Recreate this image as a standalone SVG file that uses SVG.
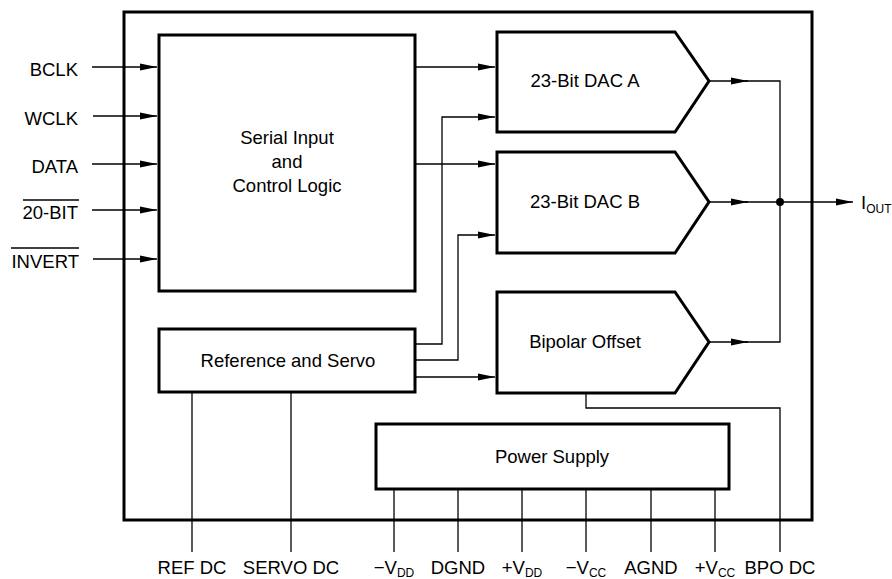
<svg xmlns="http://www.w3.org/2000/svg" width="892" height="579" viewBox="0 0 892 579">
<style>
text{font-family:"Liberation Sans",Arial,sans-serif;font-size:18.5px;fill:#000}
.box{fill:#fff;stroke:#000;stroke-width:3}
.outer{fill:none;stroke:#000;stroke-width:3}
.w{fill:none;stroke:#000;stroke-width:1.3}
.sub{font-size:12px}
.m{text-anchor:middle}
.e{text-anchor:end}
</style>
<defs>
<marker id="ah" markerUnits="userSpaceOnUse" markerWidth="18" markerHeight="8" refX="17" refY="4" orient="auto">
<path d="M0,0.6 L17,4 L0,7.4 z" fill="#000"/>
</marker>
</defs>
<rect id="package" class="outer" x="124" y="12" width="688" height="508"/>
<g id="connectors">
<line class="w" x1="92" y1="67" x2="157" y2="67" marker-end="url(#ah)"/>
<line class="w" x1="93" y1="116" x2="157" y2="116" marker-end="url(#ah)"/>
<line class="w" x1="92" y1="164" x2="157" y2="164" marker-end="url(#ah)"/>
<line class="w" x1="92" y1="210" x2="157" y2="210" marker-end="url(#ah)"/>
<line class="w" x1="93" y1="259" x2="157" y2="259" marker-end="url(#ah)"/>
<line class="w" x1="415" y1="67" x2="495" y2="67" marker-end="url(#ah)"/>
<line class="w" x1="415" y1="164" x2="495" y2="164" marker-end="url(#ah)"/>
<polyline class="w" points="415,344 442,344 442,117 495,117" marker-end="url(#ah)"/>
<polyline class="w" points="415,360 458,360 458,235 495,235" marker-end="url(#ah)"/>
<line class="w" x1="415" y1="377" x2="495" y2="377" marker-end="url(#ah)"/>
<line class="w" x1="709" y1="81" x2="748" y2="81" marker-end="url(#ah)"/>
<line class="w" x1="709" y1="202" x2="748" y2="202" marker-end="url(#ah)"/>
<line class="w" x1="709" y1="342" x2="748" y2="342" marker-end="url(#ah)"/>
<polyline class="w" points="745,81 780,81 780,342 745,342"/>
<line class="w" x1="745" y1="202" x2="853" y2="202" marker-end="url(#ah)"/>
<circle cx="780" cy="202" r="4" fill="#000"/>
<polyline class="w" points="586,393 586,408 780,408 780,552"/>
<line class="w" x1="192" y1="392" x2="192" y2="552"/>
<line class="w" x1="291" y1="392" x2="291" y2="552"/>
<line class="w" x1="394" y1="489" x2="394" y2="552"/>
<line class="w" x1="458" y1="489" x2="458" y2="552"/>
<line class="w" x1="522" y1="489" x2="522" y2="552"/>
<line class="w" x1="586" y1="489" x2="586" y2="552"/>
<line class="w" x1="651" y1="489" x2="651" y2="552"/>
<line class="w" x1="715" y1="489" x2="715" y2="552"/>
</g>
<g id="serial">
<rect class="box" x="159" y="35" width="256" height="256"/>
<text class="m" x="287" y="144">Serial Input</text>
<text class="m" x="287" y="168">and</text>
<text class="m" x="287" y="192">Control Logic</text>
</g>
<g id="refservo">
<rect class="box" x="159" y="329" width="256" height="63"/>
<text class="m" x="288" y="367">Reference and Servo</text>
</g>
<g id="daca">
<polygon class="box" points="497,32 675,32 709,81 675,132 497,132"/>
<text class="m" x="585" y="87">23-Bit DAC A</text>
</g>
<g id="dacb">
<polygon class="box" points="497,152 675,152 709,202 675,253 497,253"/>
<text class="m" x="585" y="208">23-Bit DAC B</text>
</g>
<g id="bipolar">
<polygon class="box" points="497,292 675,292 709,342 675,393 497,393"/>
<text class="m" x="585" y="348">Bipolar Offset</text>
</g>
<g id="power">
<rect class="box" x="376" y="424" width="353" height="65"/>
<text class="m" x="552" y="463">Power Supply</text>
</g>
<g id="labels">
<text class="e" x="78" y="76">BCLK</text>
<text class="e" x="78" y="125">WCLK</text>
<text class="e" x="78" y="173">DATA</text>
<text class="e" x="78" y="219">20-BIT</text>
<line x1="23" y1="200" x2="79" y2="200" stroke="#000" stroke-width="1.3"/>
<text class="e" x="79" y="268">INVERT</text>
<line x1="11" y1="248" x2="79" y2="248" stroke="#000" stroke-width="1.3"/>
<text x="861" y="209">I<tspan class="sub" dy="4">OUT</tspan></text>
<text class="m" x="192" y="574">REF DC</text>
<text class="m" x="291" y="574">SERVO DC</text>
<text class="m" x="394" y="574">−V<tspan class="sub" dy="2.5">DD</tspan></text>
<text class="m" x="458" y="574">DGND</text>
<text class="m" x="522" y="574">+V<tspan class="sub" dy="2.5">DD</tspan></text>
<text class="m" x="586" y="574">−V<tspan class="sub" dy="2.5">CC</tspan></text>
<text class="m" x="651" y="574">AGND</text>
<text class="m" x="715" y="574">+V<tspan class="sub" dy="2.5">CC</tspan></text>
<text class="m" x="780" y="574">BPO DC</text>
</g>
</svg>
